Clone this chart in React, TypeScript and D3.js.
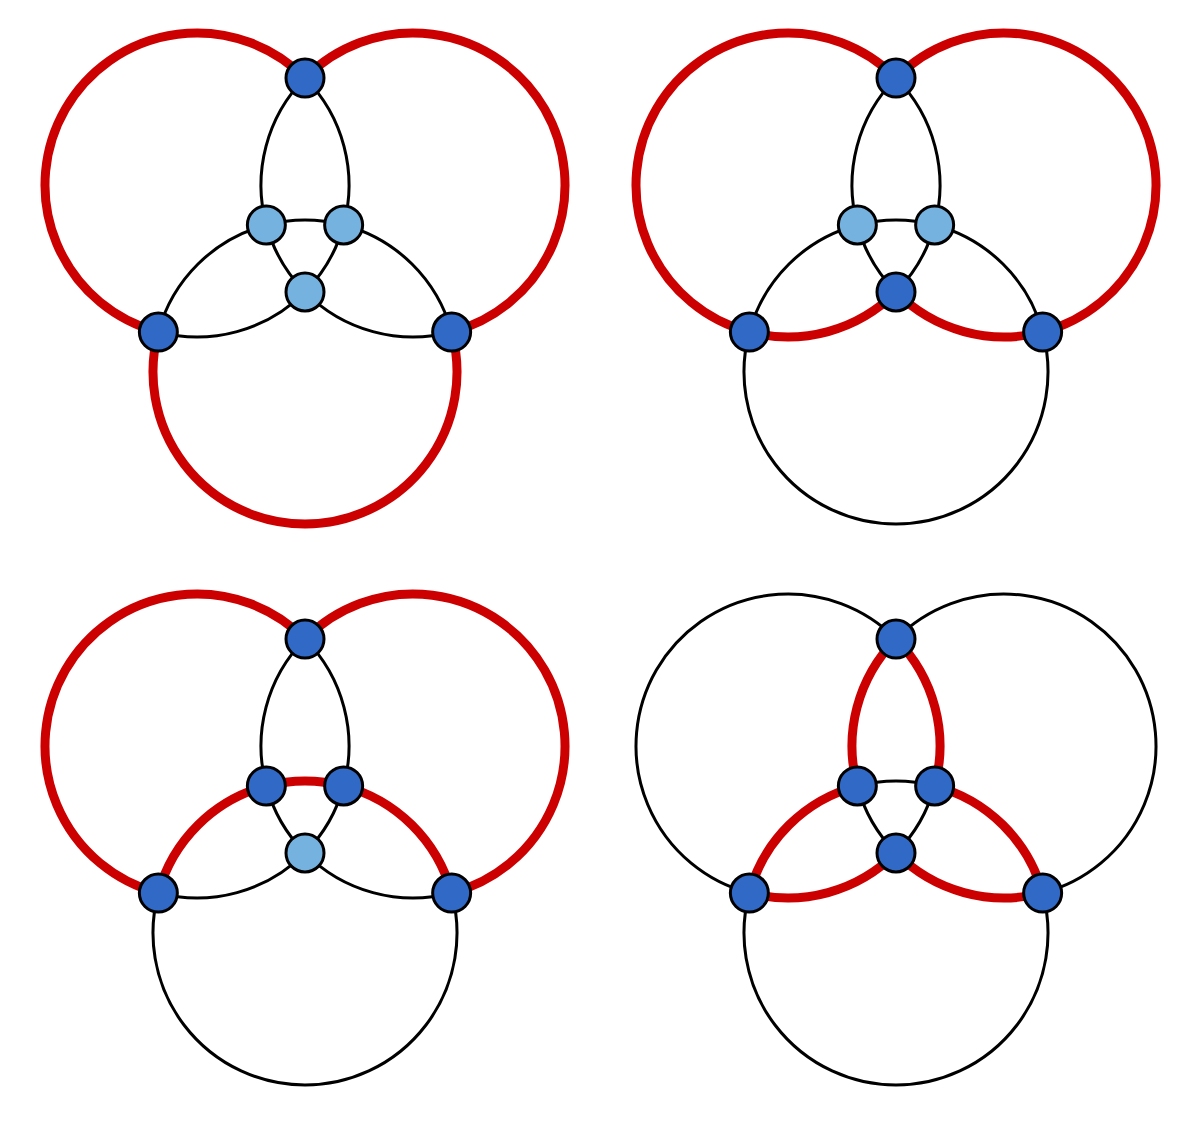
import React from 'react';
import * as d3 from 'd3';

// three equal circles, one panel's coordinates
const circleNames = ['L', 'R', 'B'];
const circleCx = [197, 413, 305];
const circleCy = [185, 185, 372];
const radius = 152;

// panel offsets
const panelDx = [0, 591, 0, 591];
const panelDy = [0, 0, 561, 561];

// red arcs per panel: circle:pointA-pointB
const redArcs = [
  ['L:BL-T', 'R:T-BR', 'B:BR-BL'],
  ['L:BL-T', 'L:IB-BL', 'R:T-BR', 'R:BR-IB'],
  ['L:BL-T', 'R:T-BR', 'B:BL-IL', 'B:IL-IR', 'B:IR-BR'],
  ['L:T-IR', 'R:IL-T', 'L:IB-BL', 'R:BR-IB', 'B:BL-IL', 'B:IR-BR'],
];
const darkNodes = [
  ['T', 'BL', 'BR'],
  ['T', 'BL', 'BR', 'IB'],
  ['T', 'BL', 'BR', 'IL', 'IR'],
  ['T', 'BL', 'BR', 'IL', 'IR', 'IB'],
];

type P = { name: string; x: number; y: number };

function intersect(i: number, j: number): [number, number][] {
  const x1 = circleCx[i], y1 = circleCy[i], x2 = circleCx[j], y2 = circleCy[j];
  const d = Math.hypot(x2 - x1, y2 - y1);
  const h = Math.sqrt(radius * radius - (d / 2) * (d / 2));
  const mx = (x1 + x2) / 2, my = (y1 + y2) / 2;
  const ux = -(y2 - y1) / d, uy = (x2 - x1) / d;
  return [[mx + ux * h, my + uy * h], [mx - ux * h, my - uy * h]];
}

// outer / inner point for each pair, chosen by distance to third circle
const pairs: [number, number, number, string, string][] = [
  [0, 1, 2, 'T', 'IB'],
  [0, 2, 1, 'BL', 'IR'],
  [1, 2, 0, 'BR', 'IL'],
];
const points: P[] = [];
const onCircle: P[][] = [[], [], []];
pairs.forEach(([i, j, k, outer, inner]) => {
  const pts = intersect(i, j);
  const dist = (p: [number, number]) => Math.hypot(p[0] - circleCx[k], p[1] - circleCy[k]);
  const sorted = pts.sort((a, b) => dist(b) - dist(a));
  const po = { name: outer, x: sorted[0][0], y: sorted[0][1] };
  const pi = { name: inner, x: sorted[1][0], y: sorted[1][1] };
  points.push(po, pi);
  onCircle[i].push(po, pi);
  onCircle[j].push(po, pi);
});

type Arc = { key: string; d: string };
const arcs: Arc[] = [];
circleNames.forEach((c, ci) => {
  const cx = circleCx[ci], cy = circleCy[ci];
  const withAng = onCircle[ci]
    .map((p) => ({ p, a: Math.atan2(p.y - cy, p.x - cx) }))
    .sort((a, b) => a.a - b.a);
  withAng.forEach((s, idx) => {
    const e = withAng[(idx + 1) % withAng.length];
    let sweep = e.a - s.a;
    if (sweep <= 0) sweep += 2 * Math.PI;
    const path = d3.path();
    path.arc(cx, cy, radius, s.a, s.a + sweep, false);
    const key = c + ':' + [s.p.name, e.p.name].sort().join('-');
    arcs.push({ key, d: path.toString() });
  });
});

const normKey = (k: string) => {
  const [c, pr] = k.split(':');
  return c + ':' + pr.split('-').sort().join('-');
};

const App: React.FC = () => (
  <svg width={1200} height={1127} style={{ position: 'absolute', left: 0, top: 0, background: '#fff' }}>
    {panelDx.map((dx, pi) => {
      const red = new Set(redArcs[pi].map(normKey));
      return (
        <g key={pi} transform={`translate(${dx},${panelDy[pi]})`}>
          {arcs.map((a) => (
            <path key={a.key} d={a.d} fill="none" stroke="#000" strokeWidth={3} />
          ))}
          {arcs.filter((a) => red.has(a.key)).map((a) => (
            <path key={'r' + a.key} d={a.d} fill="none" stroke="#cc0000" strokeWidth={9} />
          ))}
          {points.map((p) => (
            <circle key={p.name} cx={p.x} cy={p.y} r={19}
              fill={darkNodes[pi].includes(p.name) ? '#3169c6' : '#75b2e0'}
              stroke="#000" strokeWidth={3} />
          ))}
        </g>
      );
    })}
  </svg>
);

export default App;
